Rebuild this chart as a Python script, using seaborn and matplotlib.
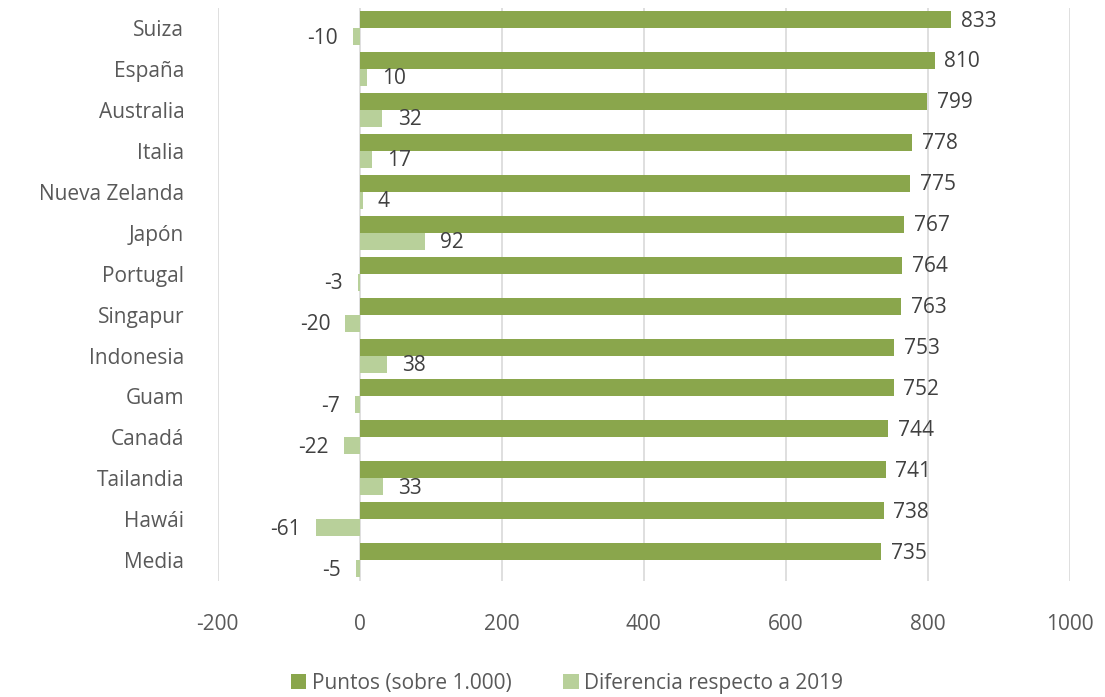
import numpy as np
import pandas as pd
import matplotlib
matplotlib.use("Agg")
import matplotlib.pyplot as plt
import seaborn as sns

paises = ["Suiza", "España", "Australia", "Italia", "Nueva Zelanda", "Japón", "Portugal",
          "Singapur", "Indonesia", "Guam", "Canadá", "Tailandia", "Hawái", "Media"]
puntos = [833, 810, 799, 778, 775, 767, 764, 763, 753, 752, 744, 741, 738, 735]
diferencia = [-10, 10, 32, 17, 4, 92, -3, -20, 38, -7, -22, 33, -61, -5]
series = ["Puntos (sobre 1.000)", "Diferencia respecto a 2019"]
colores = ["#8AA64C", "#B8D09A"]

df = pd.DataFrame({
    "pais": paises * 2,
    "valor": puntos + diferencia,
    "serie": [series[0]] * len(paises) + [series[1]] * len(paises),
})

sns.set_style("white")
plt.rcParams["font.family"] = ["Open Sans", "DejaVu Sans"]
plt.rcParams["axes.unicode_minus"] = False

fs = 15
fig = plt.figure(figsize=(11.05, 6.97), dpi=100)
ax = fig.add_axes([0.197, 0.167, 0.771, 0.822])

sns.barplot(data=df, x="valor", y="pais", hue="serie", order=paises, hue_order=series,
            palette=colores, orient="h", width=0.83, ax=ax, saturation=1, errorbar=None,
            linewidth=0)

ax.set_xlim(-200, 1000)
ax.set_xticks(range(-200, 1001, 200))
ax.xaxis.grid(True, color="#D9D9D9", linewidth=1.2)
ax.yaxis.grid(False)
ax.set_axisbelow(True)
for s in ax.spines.values():
    s.set_visible(False)
ax.tick_params(axis="both", length=0, labelsize=fs, colors="#595959")
ax.tick_params(axis="x", pad=24)
ax.tick_params(axis="y", pad=24)
ax.set_xlabel("")
ax.set_ylabel("")

# offsets of the value labels (points): dark series sits closer to its bar
pads = [7, 11]
for k, cont in enumerate(ax.containers):
    for bar, v in zip(cont, cont.datavalues):
        y = bar.get_y() + bar.get_height() / 2
        x0 = bar.get_x()
        x1 = bar.get_x() + bar.get_width()
        if v >= 0:
            ax.annotate(f"{v:g}", (max(x0, x1), y), xytext=(pads[k], -1),
                        textcoords="offset points", va="center", ha="left",
                        fontsize=fs, color="#404040")
        else:
            ax.annotate(f"{v:g}", (min(x0, x1), y), xytext=(-11, -1),
                        textcoords="offset points", va="center", ha="right",
                        fontsize=fs, color="#404040")

ax.legend(loc="center", bbox_to_anchor=(0.41, -0.179), ncol=2, frameon=False,
          fontsize=fs, handlelength=0.75, handleheight=0.75, handletextpad=0.25,
          columnspacing=2.5, labelcolor="#595959")

fig.savefig("out.png", dpi=100)
